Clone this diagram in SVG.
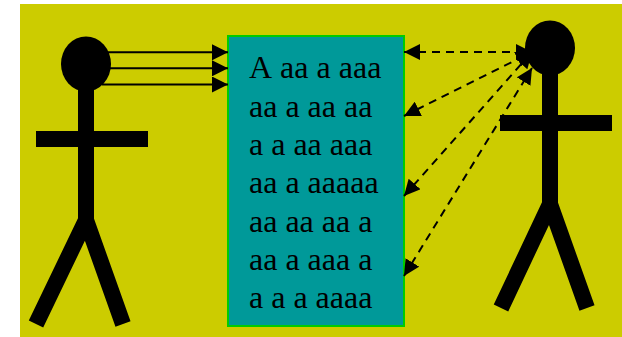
<svg xmlns="http://www.w3.org/2000/svg" width="622" height="337" viewBox="0 0 622 337">
<style>
.ink{fill:#000}
.limb{stroke:#000;stroke-width:16;fill:none;stroke-linejoin:miter}
.solid{stroke:#000;stroke-width:2;fill:none}
.dash{stroke:#000;stroke-width:2;fill:none;stroke-dasharray:8 6}
text{font-family:"Liberation Serif","Times New Roman",serif;font-size:32px;fill:#000;font-kerning:none}
</style>
<defs>
<marker id="ah" markerUnits="userSpaceOnUse" markerWidth="16" markerHeight="16" refX="16" refY="8" orient="auto-start-reverse"><path d="M0 0L16 8L0 16Z" fill="#000"/></marker>
</defs>
<rect x="20" y="4" width="602" height="333" fill="#cccc00"/>
<g id="person-left">
<ellipse class="ink" cx="86" cy="64" rx="25" ry="27.500"/>
<path class="limb" d="M86 84V222"/>
<path class="limb" d="M36 139H148"/>
<path class="limb" d="M36 324L86 220L123 324"/>
</g>
<g id="person-right">
<ellipse class="ink" cx="550" cy="48" rx="25" ry="27.500"/>
<path class="limb" d="M550 68V206"/>
<path class="limb" d="M500 123H612"/>
<path class="limb" d="M501 308L550 204L587 308"/>
</g>
<g id="document">
<rect x="228" y="36" width="176" height="290" fill="#009999" stroke="#00cc00" stroke-width="2"/>
<text x="249" y="78">A aa a aaa</text>
<text x="249" y="116.500">aa a aa aa</text>
<text x="249" y="155">a a aa aaa</text>
<text x="249" y="193">aa a aaaaa</text>
<text x="249" y="231.500">aa aa aa a</text>
<text x="249" y="270">aa a aaa a</text>
<text x="249" y="308">a a a aaaa</text>
</g>
<g id="connectors">
<path class="solid" d="M108 52.300H228" marker-end="url(#ah)"/>
<path class="solid" d="M110 68.300H228" marker-end="url(#ah)"/>
<path class="solid" d="M102 84.500H228" marker-end="url(#ah)"/>
<path class="dash" d="M404 52H532" marker-start="url(#ah)" marker-end="url(#ah)"/>
<path class="dash" d="M404 116L532 52" marker-start="url(#ah)" marker-end="url(#ah)"/>
<path class="dash" d="M404 196L532 52" marker-start="url(#ah)" marker-end="url(#ah)"/>
<path class="dash" d="M404 276L532 68" marker-start="url(#ah)" marker-end="url(#ah)"/>
</g>
</svg>
